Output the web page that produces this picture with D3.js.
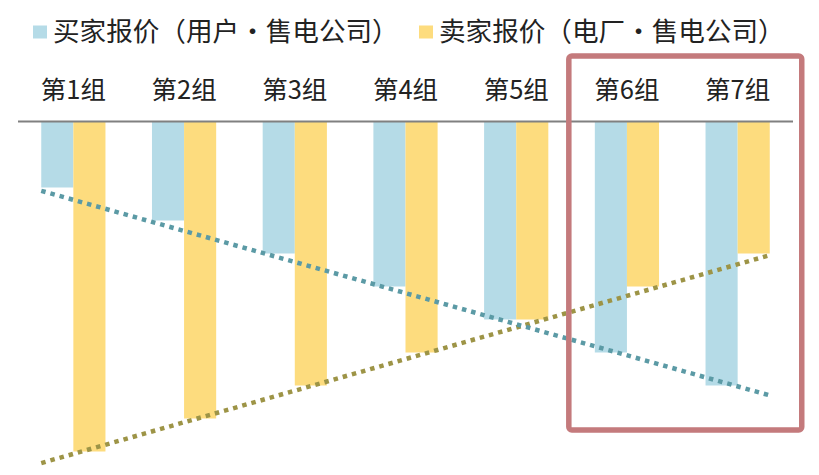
<!DOCTYPE html>
<html>
<head>
<meta charset="utf-8">
<script src="https://cdn.jsdelivr.net/npm/d3@7"></script>
<style>
  html, body { margin: 0; padding: 0; background: #fff; }
  svg { display: block; }
  text { font-family: "Noto Sans CJK SC", "Noto Sans", sans-serif; fill: #222; }
</style>
</head>
<body>
<svg id="chart" width="819" height="475"></svg>
<script>
// ---- data ----
const categories = ["第1组", "第2组", "第3组", "第4组", "第5组", "第6组", "第7组"];
const buyerValues = [2, 3, 4, 5, 6, 7, 8];      // 买家报价 (depth below axis)
const sellerValues = [10, 9, 8, 7, 6, 5, 4];     // 卖家报价
const buyerTrend = [2.1, 8.3];                   // trend line value at left / right ends
const sellerTrend = [10.35, 4.05];
const seriesNames = ["买家报价（用户・售电公司）", "卖家报价（电厂・售电公司）"];
const highlightGroups = ["第6组", "第7组"];

// ---- styles ----
const colors = { buyer: "#b5dbe7", seller: "#fddc7e", buyerLine: "#5b9aa5", sellerLine: "#9d9446", box: "#c47a7c", axis: "#808080" };

const svg = d3.select("#chart");

const x = d3.scaleBand().domain(categories).range([18, 793]).paddingInner(0.42).paddingOuter(0.21);
const xs = d3.scaleBand().domain(["buyer", "seller"]).range([0, x.bandwidth()]);
const y = d3.scaleLinear().domain([0, 10]).range([121.5, 451.5]);

// bars
const g = svg.append("g");
categories.forEach((c, i) => {
  g.append("rect").attr("x", x(c) + xs("buyer")).attr("y", y(0))
    .attr("width", xs.bandwidth()).attr("height", y(buyerValues[i]) - y(0)).attr("fill", colors.buyer);
  g.append("rect").attr("x", x(c) + xs("seller")).attr("y", y(0))
    .attr("width", xs.bandwidth()).attr("height", y(sellerValues[i]) - y(0)).attr("fill", colors.seller);
});

// axis line at zero (top)
svg.append("line").attr("x1", x.range()[0]).attr("x2", x.range()[1])
  .attr("y1", y(0)).attr("y2", y(0)).attr("stroke", colors.axis).attr("stroke-width", 2.2);

// category labels
const axis = d3.axisTop(x).tickSize(0).tickPadding(0);
const ag = svg.append("g").attr("transform", `translate(0,99)`).call(axis);
ag.select(".domain").remove();
ag.selectAll("text").attr("font-size", 25.5).attr("fill", "#222")
  .attr("font-family", "'Noto Sans CJK SC', sans-serif").attr("dy", 0);

// trend lines
const xLeft = x(categories[0]);
const xRight = x(categories[categories.length - 1]) + x.bandwidth();
const line = d3.line().x(d => d[0]).y(d => y(d[1]));
svg.append("path").datum([[xLeft, sellerTrend[0]], [xRight, sellerTrend[1]]])
  .attr("d", line).attr("fill", "none").attr("stroke", colors.sellerLine)
  .attr("stroke-width", 4.5).attr("stroke-dasharray", "4.5,5");
svg.append("path").datum([[xLeft, buyerTrend[0]], [xRight, buyerTrend[1]]])
  .attr("d", line).attr("fill", "none").attr("stroke", colors.buyerLine)
  .attr("stroke-width", 4.5).attr("stroke-dasharray", "4.5,5");

// highlight box around groups 6-7
const bx0 = x(highlightGroups[0]) - 26;
const bx1 = x(highlightGroups[1]) + x.bandwidth() + 32;
svg.append("rect").attr("x", bx0).attr("y", 56).attr("width", bx1 - bx0).attr("height", 374)
  .attr("rx", 3).attr("fill", "none").attr("stroke", colors.box).attr("stroke-width", 5.5);

// legend
const legend = [
  { name: seriesNames[0], color: colors.buyer, x: 33 },
  { name: seriesNames[1], color: colors.seller, x: 419 }
];
legend.forEach(l => {
  svg.append("rect").attr("x", l.x).attr("y", 25.5).attr("width", 14).attr("height", 13).attr("fill", l.color);
  svg.append("text").attr("x", l.x + 20).attr("y", 41).attr("font-size", 26.6).text(l.name);
});
</script>
</body>
</html>
